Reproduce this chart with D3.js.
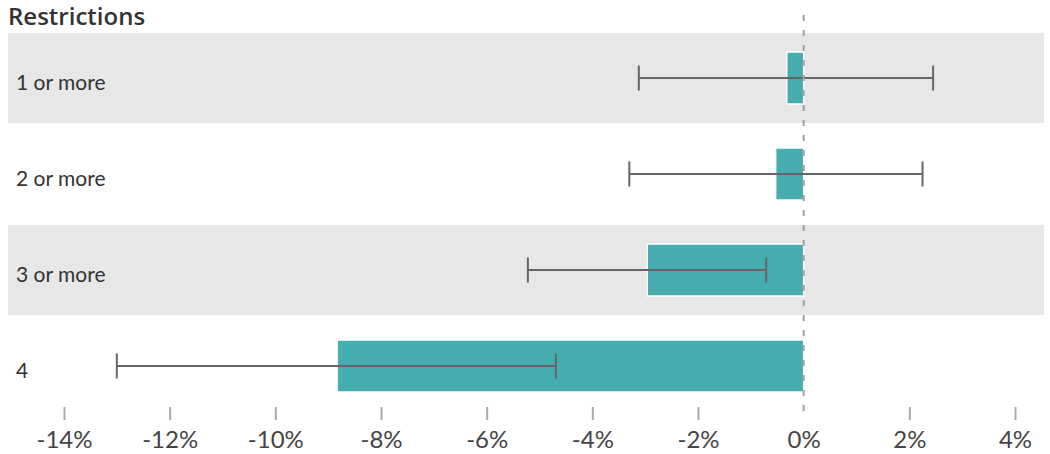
<!DOCTYPE html>
<html><head><meta charset="utf-8">
<script src="https://cdn.jsdelivr.net/npm/d3@7"></script>
<style>
html,body{margin:0;padding:0;background:#fff;}
svg{display:block;font-family:"Lato","Open Sans",sans-serif;}
</style></head>
<body>
<svg id="chart" width="1050" height="454"></svg>
<script>
const categories = ["1 or more", "2 or more", "3 or more", "4"];
const estimates = [-0.32, -0.53, -2.96, -8.83];
const lowerCI = [-3.12, -3.30, -5.22, -13.0];
const upperCI = [2.45, 2.25, -0.71, -4.69];
const tickValues = [-14, -12, -10, -8, -6, -4, -2, 0, 2, 4];
const title = "Restrictions";

const svg = d3.select("#chart");
const x = d3.scaleLinear().domain([-14, 4]).range([64, 1015]);
const y = d3.scaleBand().domain(categories).range([33, 411]).paddingInner(0.0625).paddingOuter(0);

const data = categories.map((c, i) => ({c, v: estimates[i], lo: lowerCI[i], hi: upperCI[i], i}));

// bands
svg.append("g").selectAll("rect").data(data.filter(d => d.i % 2 === 0)).join("rect")
  .attr("x", 8).attr("width", 1036)
  .attr("y", d => y(d.c)).attr("height", y.bandwidth())
  .attr("fill", "#e6e7e6");

// title
svg.append("text").attr("x", 8).attr("y", 25)
  .attr("font-size", 24).attr("font-weight", 600).attr("fill", "#333")
  .attr("font-family", "'Open Sans', sans-serif")
  .text(title);

// row labels
svg.append("g").selectAll("text").data(data).join("text")
  .attr("x", 16).attr("y", d => y(d.c) + y.bandwidth() / 2 + 12)
  .attr("font-size", 21).attr("fill", "#333")
  .text(d => d.c);

// bars
const bh = 52;
svg.append("g").selectAll("rect").data(data).join("rect")
  .attr("x", d => x(Math.min(0, d.v)))
  .attr("width", d => Math.abs(x(d.v) - x(0)))
  .attr("y", d => y(d.c) + y.bandwidth() / 2 - bh / 2)
  .attr("height", bh)
  .attr("fill", "#45acb0")
  .attr("stroke", "#fff").attr("stroke-width", 1.5);

// error bars
const eg = svg.append("g").attr("stroke", "#666").attr("stroke-width", 2);
data.forEach(d => {
  const cy = y(d.c) + y.bandwidth() / 2;
  eg.append("line").attr("x1", x(d.lo)).attr("x2", x(d.hi)).attr("y1", cy).attr("y2", cy);
  eg.append("line").attr("x1", x(d.lo)).attr("x2", x(d.lo)).attr("y1", cy - 12.5).attr("y2", cy + 12.5);
  eg.append("line").attr("x1", x(d.hi)).attr("x2", x(d.hi)).attr("y1", cy - 12.5).attr("y2", cy + 12.5);
});

// zero line
svg.append("line").attr("x1", x(0)).attr("x2", x(0)).attr("y1", 15).attr("y2", 420)
  .attr("stroke", "#a0a0a0").attr("stroke-width", 2).attr("stroke-dasharray", "6,9");

// axis
const axis = d3.axisBottom(x).tickValues(tickValues).tickSize(13).tickPadding(11)
  .tickFormat(d => d + "%");
const ag = svg.append("g").attr("transform", "translate(0,407)").call(axis);
ag.select(".domain").remove();
ag.selectAll(".tick line").attr("stroke", "#aaa").attr("stroke-width", 2)
  .attr("display", d => d === 0 ? "none" : null);
ag.selectAll(".tick text").attr("font-size", 24).attr("fill", "#444")
  .attr("font-family", "Lato, 'Open Sans', sans-serif");
</script>
</body></html>
